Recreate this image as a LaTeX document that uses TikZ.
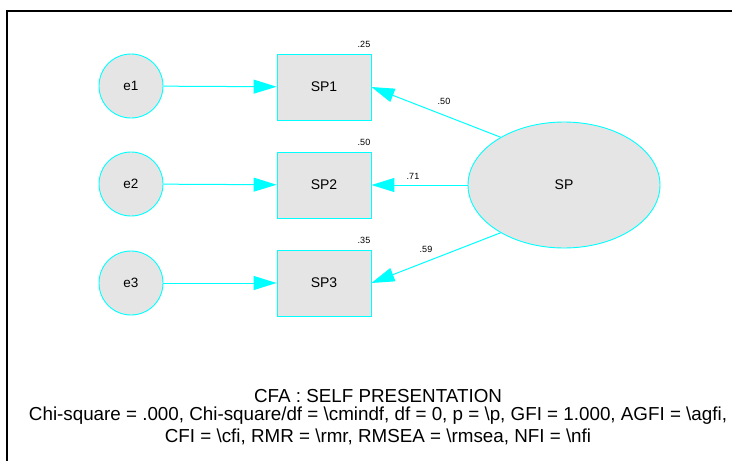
\documentclass[tikz,border=0pt]{standalone}
\usepackage{fontspec}
\setmainfont{Liberation Sans}
\usetikzlibrary{arrows.meta,shapes.geometric}
\definecolor{lc}{RGB}{0,255,255}
\definecolor{fc}{RGB}{229,229,229}
\begin{document}
\begin{tikzpicture}[x=1pt,y=-1pt,
  errc/.style={circle,draw=lc,fill=fc,minimum size=64pt,inner sep=0pt,line width=0.9pt,font=\fontsize{13.5}{15}\selectfont},
  obs/.style={rectangle,draw=lc,fill=fc,minimum width=94pt,minimum height=66pt,inner sep=0pt,line width=0.9pt,font=\fontsize{14}{15}\selectfont},
  lat/.style={ellipse,draw=lc,fill=fc,minimum width=192pt,minimum height=126pt,inner sep=0pt,line width=0.9pt,font=\fontsize{14}{15}\selectfont},
  arr/.style={draw=lc,line width=1pt,-{Triangle[length=23pt,width=14pt]}},
  smalllab/.style={font=\fontsize{9}{10}\selectfont,inner sep=0pt},
  captxt/.style={font=\fontsize{18.8}{22}\selectfont,inner sep=0pt}]
\useasboundingbox (0,0) rectangle (732,461);
\draw[line width=2pt] (7,480) -- (7,11) -- (740,11);
\node[errc] (e1) at (131,86) {e1};
\node[errc] (e2) at (131,184) {e2};
\node[errc] (e3) at (131,283) {e3};
\node[obs] (sp1) at (324,87) {SP1};
\node[obs] (sp2) at (324,185) {SP2};
\node[obs] (sp3) at (324,283) {SP3};
\node[lat] (sp) at (564,185) {SP};
\draw[arr] (e1) -- (sp1);
\draw[arr] (e2) -- (sp2);
\draw[arr] (e3) -- (sp3);
\draw[arr] (sp.143) -- (sp1.east);
\draw[arr] (sp) -- (sp2);
\draw[arr] (sp.217) -- (sp3.east);
\node[smalllab] (r1) at (364,44) {.25};
\node[smalllab] (r2) at (364,142) {.50};
\node[smalllab] (r3) at (364,240) {.35};
\node[smalllab] (l1) at (444,101) {.50};
\node[smalllab] (l2) at (413,176) {.71};
\node[smalllab] (l3) at (426,249) {.59};
\node[captxt] (t1) at (378,396) {CFA : SELF PRESENTATION};
\node[captxt] (t2) at (378,416) {Chi-square = .000, Chi-square/df = \textbackslash cmindf, df = 0, p = \textbackslash p, GFI = 1.000, AGFI = \textbackslash agfi,};
\node[captxt] (t3) at (378,437) {CFI = \textbackslash cfi, RMR = \textbackslash rmr, RMSEA = \textbackslash rmsea, NFI = \textbackslash nfi};
\end{tikzpicture}
\end{document}
